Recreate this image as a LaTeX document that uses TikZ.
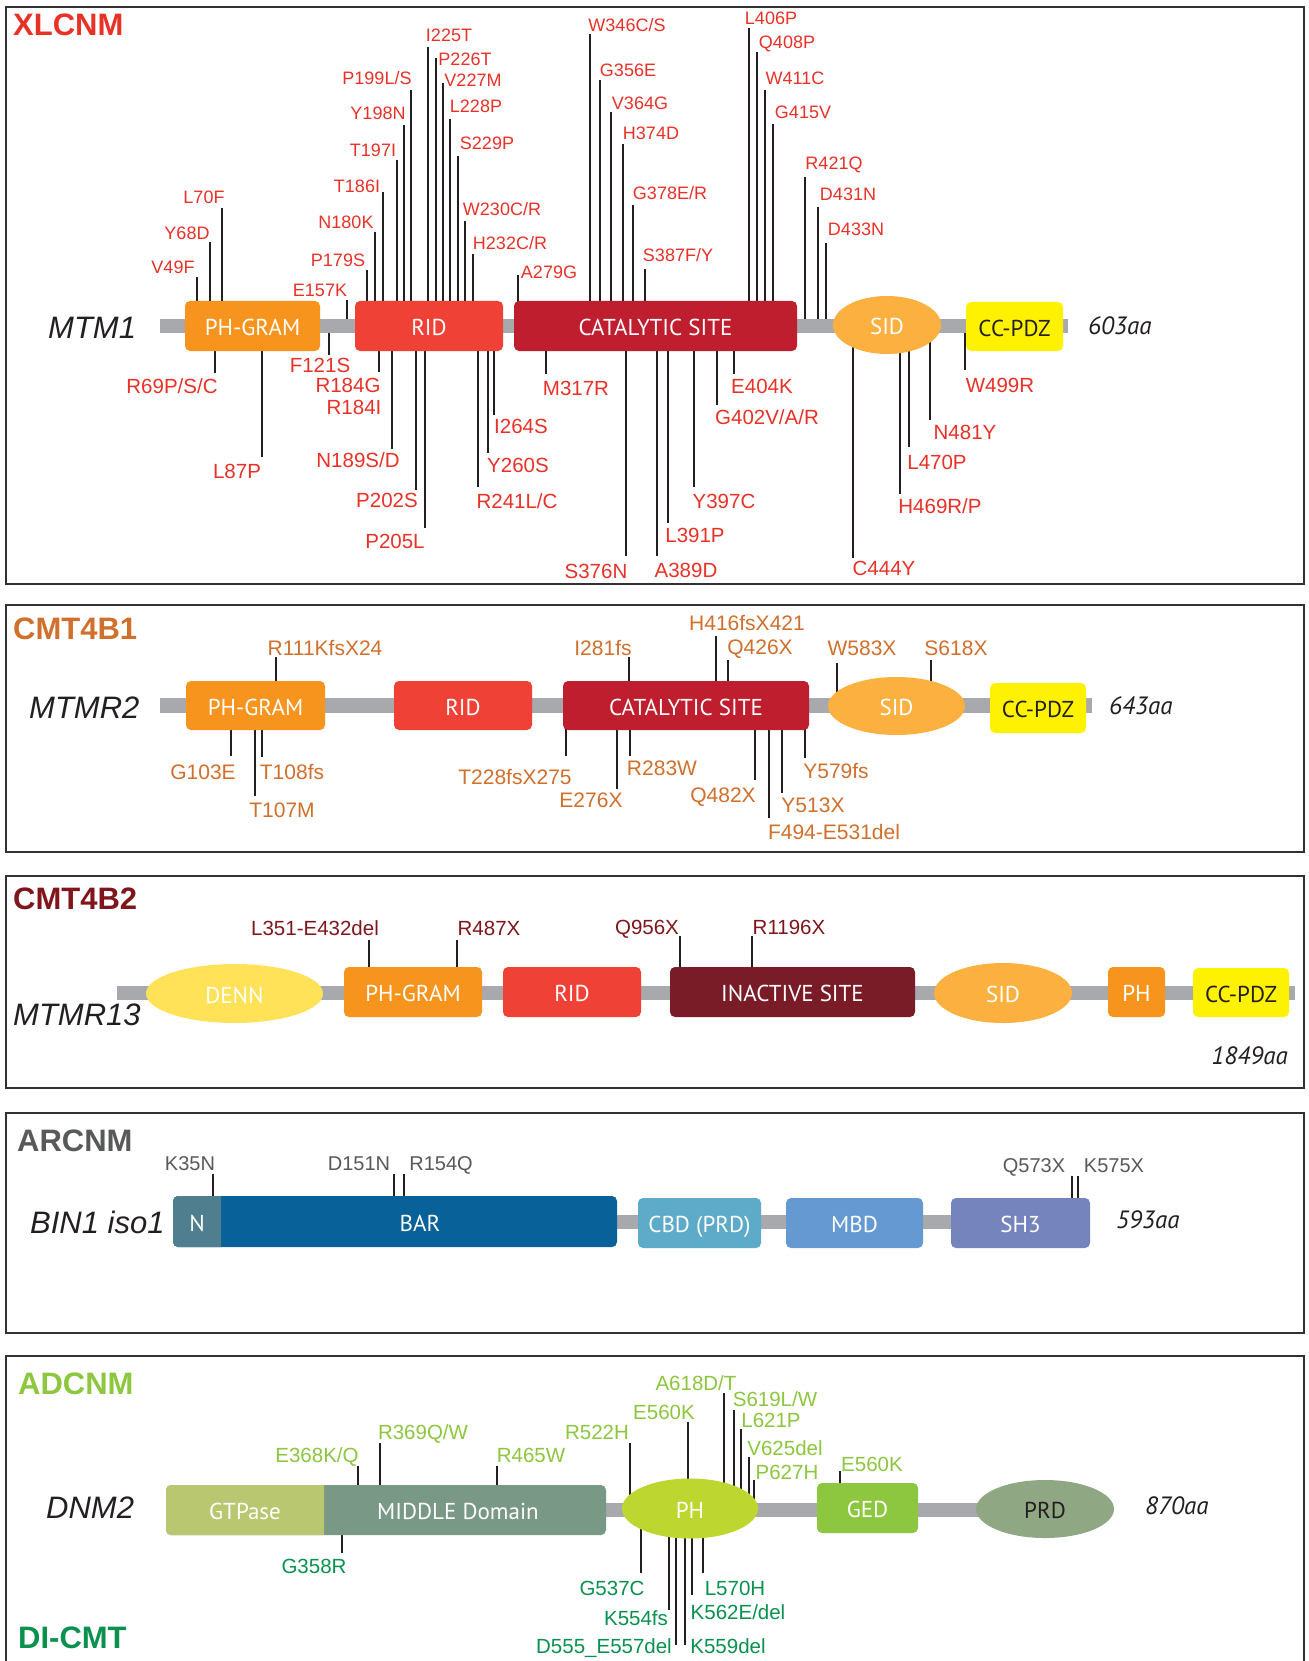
\documentclass[tikz,border=0pt]{standalone}
\usepackage{fontspec}
\setmainfont{Liberation Sans}
\newfontfamily\domfont{PT Sans}
\usetikzlibrary{shapes.geometric}
\definecolor{xred}{RGB}{232,50,40}
\definecolor{corange}{RGB}{208,112,44}
\definecolor{dred}{RGB}{128,22,28}
\definecolor{agray}{RGB}{88,89,91}
\definecolor{lgreen}{RGB}{141,198,63}
\definecolor{dgreen}{RGB}{10,145,80}
\definecolor{inkc}{RGB}{35,31,32}
\definecolor{framec}{RGB}{50,50,50}
\definecolor{barc}{RGB}{167,169,172}
\definecolor{phc}{RGB}{247,148,29}
\definecolor{ridc}{RGB}{239,65,54}
\definecolor{catc}{RGB}{190,30,45}
\definecolor{sidc}{RGB}{251,176,64}
\definecolor{ccc}{RGB}{255,242,0}
\definecolor{dennc}{RGB}{255,226,88}
\definecolor{inacc}{RGB}{122,28,40}
\definecolor{nc}{RGB}{79,127,143}
\definecolor{barbc}{RGB}{8,97,152}
\definecolor{cbdc}{RGB}{93,171,200}
\definecolor{mbdc}{RGB}{101,153,210}
\definecolor{shc}{RGB}{117,132,188}
\definecolor{gtpc}{RGB}{185,199,112}
\definecolor{midc}{RGB}{122,152,134}
\definecolor{phgc}{RGB}{190,214,48}
\definecolor{gedc}{RGB}{141,198,63}
\definecolor{prdc}{RGB}{143,168,131}
\newcounter{mutc}
\newcommand\mutat[7]{%
  \stepcounter{mutc}%
  \draw[mline] (#2,#3) -- (#2,#4);
  \node[#1] (m\arabic{mutc}) at (#5,#6) {#7};
}
\begin{document}
\begin{tikzpicture}[x=1pt,y=-1pt,
  mline/.style={line width=1.6pt, draw=inkc},
  frame/.style={line width=2.5pt, draw=framec},
  lab/.style={inner sep=0pt, anchor=center, text depth=0pt},
  xtl/.style={lab, text=xred, font=\fontsize{18}{18}\selectfont, text height=12.9pt},
  xbl/.style={lab, text=xred, font=\fontsize{20.5}{20.5}\selectfont, text height=14.7pt},
  ctl/.style={lab, text=corange, font=\fontsize{21}{21}\selectfont, text height=15pt},
  dtl/.style={lab, text=dred, font=\fontsize{20.5}{20.5}\selectfont, text height=14.7pt},
  agl/.style={lab, text=agray, font=\fontsize{20}{20}\selectfont, text height=14.3pt},
  gtl/.style={lab, text=lgreen, font=\fontsize{20.5}{20.5}\selectfont, text height=14.7pt},
  gbl/.style={lab, text=dgreen, font=\fontsize{20.5}{20.5}\selectfont, text height=14.7pt},
  title/.style={inner sep=0pt, anchor=west, font=\bfseries\fontsize{31}{31}\selectfont, text height=22.2pt, text depth=0pt},
  gene/.style={inner sep=0pt, anchor=west, text=inkc, font=\itshape\fontsize{31}{31}\selectfont, text height=22.2pt, text depth=0pt},
  aa/.style={inner sep=0pt, anchor=west, text=inkc, font=\domfont\itshape\fontsize{25}{25}\selectfont, text height=17pt, text depth=0pt},
  dom/.style={draw=none, rounded corners=5pt, text=white, font=\domfont\fontsize{23}{23}\selectfont, text height=19.5pt, text depth=0pt, inner sep=0pt},
  ell/.style={ellipse, draw=none, text=white, font=\domfont\fontsize{23}{23}\selectfont, text height=19.5pt, text depth=0pt, inner sep=0pt},
  bar/.style={fill=barc, draw=none}
]
\useasboundingbox (0,0) rectangle (1308,1661);
\fill[white] (0,0) rectangle (1308,1661);

% ---------------- frames
\draw[frame] (6,7) rectangle (1304,584);
\draw[frame] (6,605) rectangle (1304,852);
\draw[frame] (6,876) rectangle (1304,1088);
\draw[frame] (6,1113) rectangle (1304,1333);
\draw[frame] (6,1670) -- (6,1356) -- (1304,1356) -- (1304,1670);

% ---------------- titles
\node[title, text=xred] (t1) at (13,24) {XLCNM};
\node[title, text=corange] (t2) at (13,628) {CMT4B1};
\node[title, text=dred] (t3) at (13,898) {CMT4B2};
\node[title, text=agray] (t4) at (17,1140) {ARCNM};
\node[title, text=lgreen] (t5) at (18,1383) {ADCNM};
\node[title, text=dgreen] (t6) at (18,1637) {DI-CMT};

% ================= PANEL 1: MTM1
\mutat{xtl}{197}{326}{277}{173}{267}{V49F}
\mutat{xtl}{210}{326}{242}{187}{233}{Y68D}
\mutat{xtl}{222}{326}{208}{204}{197}{L70F}
\mutat{xtl}{347}{326}{300}{320}{290}{E157K}
\mutat{xtl}{367}{326}{270}{338}{260}{P179S}
\mutat{xtl}{375}{326}{232}{346}{222}{N180K}
\mutat{xtl}{383}{326}{192}{357}{186}{T186I}
\mutat{xtl}{397}{326}{160}{373}{150}{T197I}
\mutat{xtl}{404}{326}{125}{378}{113}{Y198N}
\mutat{xtl}{411}{326}{90}{377}{78}{P199L/S}
\mutat{xtl}{428}{326}{47}{449}{35}{I225T}
\mutat{xtl}{436}{326}{58}{465}{59}{P226T}
\mutat{xtl}{443}{326}{83}{473}{80}{V227M}
\mutat{xtl}{450}{326}{119}{476}{106}{L228P}
\mutat{xtl}{458}{326}{156}{487}{143}{S229P}
\mutat{xtl}{465}{326}{221}{502}{209}{W230C/R}
\mutat{xtl}{473}{326}{254}{510}{243}{H232C/R}
\mutat{xtl}{518}{326}{275}{549}{272}{A279G}
\mutat{xtl}{590}{326}{34}{627}{25}{W346C/S}
\mutat{xtl}{600}{326}{80}{628}{70}{G356E}
\mutat{xtl}{611}{326}{112}{640}{103}{V364G}
\mutat{xtl}{623}{326}{144}{651}{133}{H374D}
\mutat{xtl}{633}{326}{205}{670}{193}{G378E/R}
\mutat{xtl}{645}{326}{269}{678}{255}{S387F/Y}
\mutat{xtl}{749}{326}{28}{771}{18}{L406P}
\mutat{xtl}{757}{326}{52}{787}{42}{Q408P}
\mutat{xtl}{765}{326}{90}{795}{78}{W411C}
\mutat{xtl}{773}{326}{124}{803}{112}{G415V}
\mutat{xtl}{805}{326}{177}{834}{163}{R421Q}
\mutat{xtl}{818}{326}{207}{848}{194}{D431N}
\mutat{xtl}{826}{326}{243}{856}{229}{D433N}

\mutat{xbl}{215}{326}{373}{172}{386}{R69P/S/C}
\mutat{xbl}{262}{326}{457}{237}{471}{L87P}
\mutat{xbl}{329}{326}{355}{320}{365}{F121S}
\mutat{xbl}{379}{326}{372}{348}{385}{R184G}
\node[xbl] (r184i) at (354,407) {R184I};
\mutat{xbl}{392}{326}{449}{358}{460}{N189S/D}
\mutat{xbl}{416}{326}{490}{387}{500}{P202S}
\mutat{xbl}{425}{326}{528}{395}{541}{P205L}
\mutat{xbl}{478}{326}{487}{517}{501}{R241L/C}
\mutat{xbl}{488}{326}{453}{518}{465}{Y260S}
\mutat{xbl}{494}{326}{415}{521}{426}{I264S}
\mutat{xbl}{546}{326}{374}{576}{388}{M317R}
\mutat{xbl}{626}{326}{556}{596}{571}{S376N}
\mutat{xbl}{657}{326}{556}{686}{570}{A389D}
\mutat{xbl}{668}{326}{523}{695}{535}{L391P}
\mutat{xbl}{694}{326}{487}{724}{501}{Y397C}
\mutat{xbl}{717}{326}{405}{767}{417}{G402V/A/R}
\mutat{xbl}{734}{326}{374}{762}{386}{E404K}
\mutat{xbl}{853}{326}{558}{884}{568}{C444Y}
\mutat{xbl}{900}{326}{494}{940}{506}{H469R/P}
\mutat{xbl}{909}{326}{447}{937}{462}{L470P}
\mutat{xbl}{930}{326}{420}{965}{432}{N481Y}
\mutat{xbl}{965}{326}{370}{1000}{385}{W499R}

\fill[bar] (160,319) rectangle (1068,333);
\node[dom, fill=phc, minimum width=135pt, minimum height=50pt] (p1ph) at (252.5,326) {PH-GRAM};
\node[dom, fill=ridc, minimum width=148pt, minimum height=50pt] (p1rid) at (429,326) {RID};
\node[dom, fill=catc, minimum width=283pt, minimum height=50pt] (p1cat) at (655.5,326) {CATALYTIC SITE};
\node[ell, fill=sidc, minimum width=108pt, minimum height=58pt] (p1sid) at (887,325) {SID};
\node[dom, fill=ccc, text=inkc, minimum width=97pt, minimum height=49pt] (p1cc) at (1014.5,326.5) {CC-PDZ};
\node[gene] (g1) at (48,327) {MTM1};
\node[aa] (l1) at (1088,326) {603aa};

% ================= PANEL 2: MTMR2
\mutat{ctl}{276}{705}{657}{325}{648}{R111KfsX24}
\mutat{ctl}{629}{705}{657}{603}{648}{I281fs}
\mutat{ctl}{716}{705}{636}{747}{623}{H416fsX421}
\mutat{ctl}{728}{705}{660}{760}{647}{Q426X}
\mutat{ctl}{837}{705}{663}{862}{648}{W583X}
\mutat{ctl}{931}{705}{660}{956}{648}{S618X}
\mutat{ctl}{231}{705}{756}{203}{772}{G103E}
\mutat{ctl}{255}{705}{796}{282}{810}{T107M}
\mutat{ctl}{262}{705}{757}{292}{772}{T108fs}
\mutat{ctl}{566}{705}{756}{515}{777}{T228fsX275}
\mutat{ctl}{617}{705}{789}{591}{800}{E276X}
\mutat{ctl}{630}{705}{756}{662}{768}{R283W}
\mutat{ctl}{755}{705}{780}{723}{795}{Q482X}
\mutat{ctl}{769}{705}{818}{834}{832}{F494-E531del}
\mutat{ctl}{782}{705}{793}{813}{805}{Y513X}
\mutat{ctl}{805}{705}{758}{836}{771}{Y579fs}

\fill[bar] (160,698) rectangle (1092,713);
\node[dom, fill=phc, minimum width=139pt, minimum height=49pt] (p2ph) at (255.5,705.5) {PH-GRAM};
\node[dom, fill=ridc, minimum width=138pt, minimum height=49pt] (p2rid) at (463,705.5) {RID};
\node[dom, fill=catc, minimum width=246pt, minimum height=49pt] (p2cat) at (686,705.5) {CATALYTIC SITE};
\node[ell, fill=sidc, minimum width=137pt, minimum height=58pt] (p2sid) at (896.5,706) {SID};
\node[dom, fill=ccc, text=inkc, minimum width=96pt, minimum height=50pt] (p2cc) at (1038,708) {CC-PDZ};
\node[gene] (g2) at (29,707) {MTMR2};
\node[aa] (l2) at (1109,706) {643aa};

% ================= PANEL 3: MTMR13
\mutat{dtl}{369}{993}{940}{315}{928}{L351-E432del}
\mutat{dtl}{457}{993}{940}{489}{928}{R487X}
\mutat{dtl}{680}{993}{936}{647}{927}{Q956X}
\mutat{dtl}{752}{993}{936}{789}{927}{R1196X}

\fill[bar] (117,986) rectangle (1295,1000);
\node[ell, fill=dennc, minimum width=177pt, minimum height=59pt] (p3denn) at (234.5,993.5) {DENN};
\node[dom, fill=phc, minimum width=138pt, minimum height=50pt] (p3ph) at (413,992) {PH-GRAM};
\node[dom, fill=ridc, minimum width=138pt, minimum height=50pt] (p3rid) at (572,992) {RID};
\node[dom, fill=inacc, minimum width=245pt, minimum height=50pt] (p3in) at (792.5,992) {INACTIVE SITE};
\node[ell, fill=sidc, minimum width=138pt, minimum height=60pt] (p3sid) at (1003,993) {SID};
\node[dom, fill=phc, minimum width=57pt, minimum height=50pt] (p3ph2) at (1136.5,992) {PH};
\node[dom, fill=ccc, text=inkc, minimum width=96pt, minimum height=49pt] (p3cc) at (1241,992.5) {CC-PDZ};
\node[gene] (g3) at (13,1014) {MTMR13};
\node[aa, anchor=east] (l3) at (1288,1056) {1849aa};

% ================= PANEL 4: BIN1
\mutat{agl}{213}{1222}{1174}{190}{1163}{K35N}
\mutat{agl}{394}{1222}{1174}{359}{1163}{D151N}
\mutat{agl}{404}{1222}{1174}{441}{1163}{R154Q}
\mutat{agl}{1072}{1222}{1176}{1034}{1165}{Q573X}
\mutat{agl}{1078}{1222}{1176}{1114}{1165}{K575X}

\fill[bar] (180,1215) rectangle (1085,1229);
\node[dom, fill=barbc, minimum width=444pt, minimum height=51pt] (p4bar) at (395,1221.5) {};
\begin{scope}
  \clip (160,1180) rectangle (221,1260);
  \fill[nc, rounded corners=5pt] (173,1196) rectangle (617,1247);
\end{scope}
\node[dom] (p4nt) at (197,1222) {N};
\node[dom] (p4bt) at (420,1222) {BAR};
\node[dom, fill=cbdc, minimum width=123pt, minimum height=50pt] (p4cbd) at (699.5,1223) {CBD (PRD)};
\node[dom, fill=mbdc, minimum width=137pt, minimum height=50pt] (p4mbd) at (854.5,1223) {MBD};
\node[dom, fill=shc, minimum width=139pt, minimum height=50pt] (p4sh3) at (1020.5,1223) {SH3};
\node[gene] (g4) at (30,1222) {BIN1 iso1};
\node[aa] (l4) at (1116,1220) {593aa};

% ================= PANEL 5: DNM2
\mutat{gtl}{358}{1510}{1466}{317}{1455}{E368K/Q}
\mutat{gtl}{380}{1510}{1443}{423}{1432}{R369Q/W}
\mutat{gtl}{497}{1510}{1466}{531}{1455}{R465W}
\mutat{gtl}{630}{1510}{1443}{597}{1432}{R522H}
\mutat{gtl}{688}{1510}{1422}{664}{1412}{E560K}
\mutat{gtl}{724}{1510}{1393}{696}{1383}{A618D/T}
\mutat{gtl}{734}{1510}{1410}{775}{1399}{S619L/W}
\mutat{gtl}{741}{1510}{1429}{771}{1420}{L621P}
\mutat{gtl}{749}{1510}{1457}{785}{1448}{V625del}
\mutat{gtl}{754}{1510}{1480}{787}{1472}{P627H}
\mutat{gtl}{840}{1510}{1471}{872}{1464}{E560K}
\mutat{gbl}{342}{1510}{1553}{314}{1566}{G358R}
\mutat{gbl}{641}{1510}{1573}{612}{1588}{G537C}
\mutat{gbl}{669}{1510}{1610}{636}{1618}{K554fs}
\mutat{gbl}{676}{1510}{1645}{604}{1646}{D555\_E557del}
\mutat{gbl}{685}{1510}{1645}{728}{1646}{K559del}
\mutat{gbl}{692}{1510}{1595}{738}{1612}{K562E/del}
\mutat{gbl}{703}{1510}{1573}{735}{1588}{L570H}

\fill[bar] (590,1503) rectangle (1000,1517);
\node[dom, fill=midc, minimum width=440pt, minimum height=50pt] (p5mid) at (386,1510) {};
\begin{scope}
  \clip (150,1470) rectangle (324,1550);
  \fill[gtpc, rounded corners=5pt] (166,1485) rectangle (606,1535);
\end{scope}
\node[dom] (p5gt) at (245,1510) {GTPase};
\node[dom] (p5mt) at (458,1510) {MIDDLE Domain};
\node[ell, fill=phgc, minimum width=136pt, minimum height=60pt] (p5ph) at (690,1508.5) {PH};
\node[dom, fill=gedc, minimum width=101pt, minimum height=50pt] (p5ged) at (867.5,1508) {GED};
\node[ell, fill=prdc, text=inkc, minimum width=138pt, minimum height=58pt] (p5prd) at (1045,1509) {PRD};
\node[gene] (g5) at (46,1507) {DNM2};
\node[aa] (l5) at (1145,1506) {870aa};
\end{tikzpicture}
\end{document}
